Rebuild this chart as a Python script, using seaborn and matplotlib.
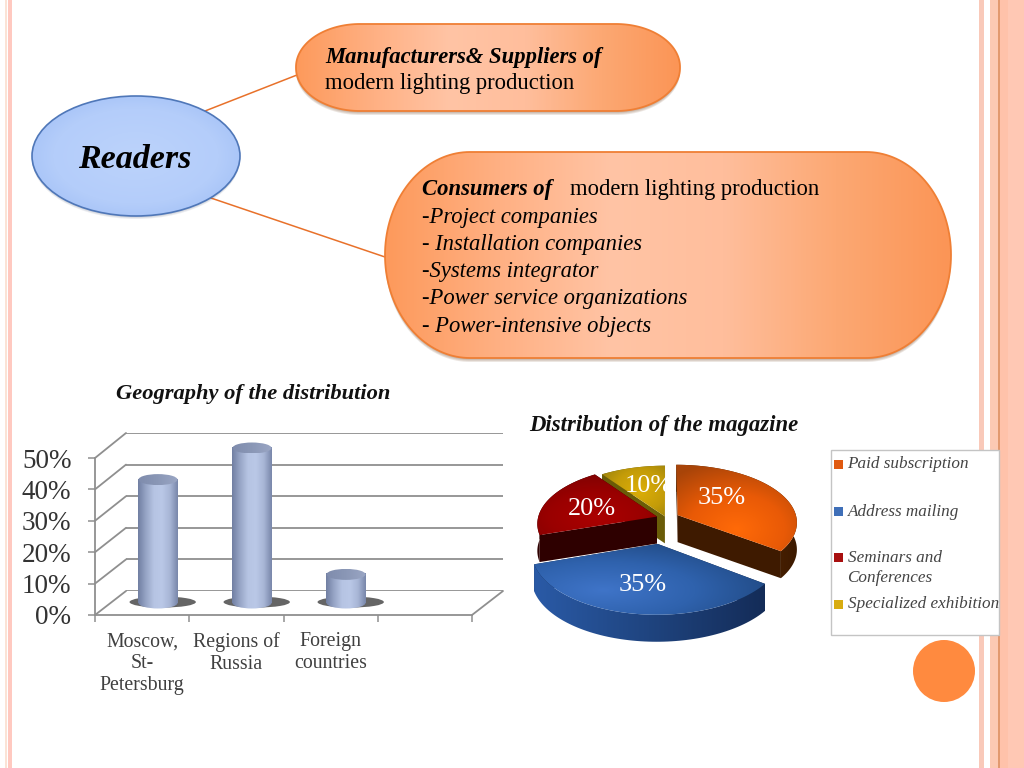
# Slide with reader groups, a fake 3D bar chart and an exploded 3D pie

import numpy as np
import matplotlib
matplotlib.use('Agg')
import matplotlib.pyplot as plt
import seaborn as sns
from matplotlib.colors import LinearSegmentedColormap
from matplotlib.patches import Ellipse, Polygon, Rectangle

# Bar chart data
GEO_CATEGORIES = ['Moscow,\nSt-\nPetersburg', 'Regions of\nRussia', 'Foreign\ncountries']
GEO_VALUES = [40, 50, 10]
GEO_TICKS = [0, 10, 20, 30, 40, 50]
GEO_TITLE = 'Geography of the distribution'

# Pie chart data
PIE_LABELS = ['Paid subscription', 'Address mailing', 'Seminars and\nConferences',
              'Specialized exhibition']
PIE_VALUES = [35, 35, 20, 10]
PIE_EXPLODE = [0.11, 0.43, 0.08, 0.03]
PIE_TITLE = 'Distribution of the magazine'

# Text of the top diagram
CONSUMER_LINES = ['-Project companies', '- Installation companies', '-Systems integrator',
                  '-Power service organizations', '- Power-intensive objects']

W, H = 1024, 768
SERIF = 'Liberation Serif'

sns.set_theme(style='white')
plt.rcParams['font.family'] = [SERIF, 'DejaVu Sans']


def px_axes(fig, left, top, right, bottom, zorder):
    """Axes placed by pixel box (y counted from the top of the picture)."""
    ax = fig.add_axes([left / W, 1 - bottom / H, (right - left) / W, (bottom - top) / H])
    ax.set_zorder(zorder)
    ax.patch.set_alpha(0)
    return ax


def grad_fill(ax, patch, colors, mode='h', focus=(0.5, 0.5)):
    """Fill a patch with a gradient image clipped to it."""
    ax.add_patch(patch)
    x0, y0, x1, y1 = patch.get_window_extent().extents
    inv = ax.transData.inverted()
    (ax0, ay0), (ax1, ay1) = inv.transform([(x0, y0), (x1, y1)])
    xx, yy = np.meshgrid(np.linspace(0, 1, 200), np.linspace(0, 1, 200))
    if mode == 'h':
        g = xx
    else:
        g = np.clip(np.hypot(xx - focus[0], yy - focus[1]) / 0.8, 0, 1)
    cmap = LinearSegmentedColormap.from_list('g', colors)
    xlim, ylim = ax.get_xlim(), ax.get_ylim()
    im = ax.imshow(g, cmap=cmap, extent=(ax0, ax1, ay0, ay1), origin='lower', aspect='auto',
                   vmin=0, vmax=1, zorder=patch.get_zorder(), interpolation='bilinear')
    im.set_clip_path(patch)
    ax.set_xlim(xlim)
    ax.set_ylim(ylim)


fig = plt.figure(figsize=(W / 100, H / 100), dpi=100, facecolor='white')
bg = px_axes(fig, 0, 0, W, H, 0)
bg.set_xlim(0, W)
bg.set_ylim(H, 0)
bg.axis('off')

# Slide stripes
for x0, x1, col in [(5, 7, '#fbe3d6'), (8, 12, '#ffc9c0'), (979, 983.5, '#f9c9b9'),
                    (990, 998, '#fcc9b3'), (998, 999.5, '#e2996f'), (999.5, 1008, '#ffc2aa'),
                    (1008, 1024, '#ffc8b4')]:
    bg.add_patch(Rectangle((x0, 0), x1 - x0, H, color=col, lw=0, zorder=0))

# Connector lines
bg.plot([205, 297], [111, 75], color='#e8712a', lw=1.1, zorder=1)
bg.plot([205, 385], [196, 257], color='#e8712a', lw=1.1, zorder=1)


def rounded(x0, y0, x1, y1, rx, ry, **kw):
    """Box with elliptical corners."""
    t = np.linspace(0, np.pi / 2, 40)
    pts = []
    pts += list(zip(x1 - rx + rx * np.sin(t), y0 + ry - ry * np.cos(t)))
    pts += list(zip(x1 - rx + rx * np.cos(t), y1 - ry + ry * np.sin(t)))
    pts += list(zip(x0 + rx - rx * np.sin(t), y1 - ry + ry * np.cos(t)))
    pts += list(zip(x0 + rx - rx * np.cos(t), y0 + ry - ry * np.sin(t)))
    return Polygon(pts, closed=True, **kw)


ORANGE_STOPS = ['#fd9a5c', '#ffb083', '#ffc4a5', '#ffbe9c', '#fca873', '#fb9556']
for box, rx, ry in [((296, 24, 680, 111), 64, 43), ((385, 152, 951, 358), 85, 103)]:
    for k in range(1, 5):
        bg.add_patch(rounded(box[0], box[1] + k, box[2], box[3] + k, rx, ry, fc='#7a5030',
                             ec='none', alpha=0.14, zorder=2))
    grad_fill(bg, rounded(*box, rx, ry, fc='none', ec='none', zorder=3), ORANGE_STOPS)
    bg.add_patch(rounded(*box, rx, ry, fc='none', ec='#ef7f35', lw=1.3, zorder=4))

# Readers ellipse
for k in range(1, 4):
    bg.add_patch(Ellipse((136, 156 + k), 208, 120, fc='#405070', ec='none', alpha=0.1, zorder=2))
grad_fill(bg, Ellipse((136, 156), 208, 120, fc='none', ec='none', zorder=3),
          ['#bcd3fb', '#b4cdfa', '#8fb2f2'], mode='r')
bg.add_patch(Ellipse((136, 156), 208, 120, fc='none', ec='#4f77b8', lw=1.2, zorder=4))
bg.text(135, 159, 'Readers', fontsize=24.5, fontweight='bold', style='italic', color='black',
        ha='center', va='center', zorder=5)

# Diagram texts
TXT = 16.3
bg.text(325, 57, 'Manufacturers& Suppliers of', fontsize=TXT, fontweight='bold', style='italic',
        va='center', color='black', zorder=5)
bg.text(325, 84, 'modern lighting production', fontsize=TXT, va='center', color='black', zorder=5)
bg.text(422, 189, 'Consumers of', fontsize=TXT, fontweight='bold', style='italic', va='center',
        color='black', zorder=5)
bg.text(570, 189, 'modern lighting production', fontsize=TXT, va='center', color='black', zorder=5)
for i, line in enumerate(CONSUMER_LINES):
    bg.text(422, 217 + i * 27.3, line, fontsize=TXT, style='italic', va='center', color='black',
            zorder=5)

bg.add_patch(Ellipse((944, 671), 62, 62, fc='#ff8a3f', ec='none', zorder=1))

# Bar chart: back wall, front frame and the bars sit on three planes
n_slots = 4
ymax = GEO_TICKS[-1]
GRID = '#8f8f8f'

back = px_axes(fig, 126, 433, 503, 591, 1)
back.set_xlim(-0.5, n_slots - 0.5)
back.set_ylim(0, ymax)
back.set_yticks(GEO_TICKS)
back.set_xticks([])
back.tick_params(left=False, labelleft=False)
back.grid(True, axis='y', color=GRID, lw=1.3)
sns.despine(ax=back, left=True, bottom=True)

front = px_axes(fig, 95, 458, 472, 615, 2)
front.set_xlim(-0.5, n_slots - 0.5)
front.set_ylim(0, ymax)
front.set_yticks(GEO_TICKS)
front.set_yticklabels(['%d%%' % t for t in GEO_TICKS], fontsize=19.5, color='#333333')
front.set_xticks(range(len(GEO_CATEGORIES)))
front.set_xticklabels(GEO_CATEGORIES, fontsize=14.3, color='#404040', linespacing=1.2)
front.set_xticks(np.arange(n_slots + 1) - 0.5, minor=True)
front.tick_params(axis='x', which='major', length=0, pad=12.5)
front.tick_params(axis='x', which='minor', length=5, width=1.1, color=GRID, bottom=True)
front.tick_params(axis='y', length=5, width=1.1, color=GRID, left=True, pad=12)
sns.despine(ax=front)
for s in ('left', 'bottom'):
    front.spines[s].set_color(GRID)
    front.spines[s].set_linewidth(1.3)

# Depth lines joining front frame and back wall
for t in GEO_TICKS:
    y0 = 615 - (615 - 458) * t / ymax
    y1 = 591 - (591 - 433) * t / ymax
    bg.plot([95, 126], [y0, y1], color=GRID, lw=1.3, zorder=1)
bg.plot([472, 503], [615, 591], color=GRID, lw=1.3, zorder=1)

# Bar plane has spare room above and below for the cylinder caps
px_y = ymax / 158.0   # data units per pixel
bars = px_axes(fig, 111, 429, 487, 619, 3)
sns.barplot(x=GEO_CATEGORIES, y=GEO_VALUES, color='#a9b7d6', width=0.415, ax=bars)
bars.set_xlim(-0.5, n_slots - 0.5)
bars.set_ylim(-16 * px_y, ymax + 16 * px_y)
bars.axis('off')
BAR_STOPS = ['#717fa2', '#97a5c6', '#b6c4e3', '#bac8e7', '#a8b6d6', '#7987aa']
fig.canvas.draw()
for patch in list(bars.patches):
    x0, w, h = patch.get_x(), patch.get_width(), patch.get_height()
    cx = x0 + w / 2
    bars.add_patch(Ellipse((cx + 0.05, 0.3), w * 1.7, 11 * px_y, fc='#4a4a4a', ec='none',
                           alpha=0.85, zorder=1))
    grad_fill(bars, Ellipse((cx, 0), w, 11 * px_y, fc='none', ec='none', zorder=2), BAR_STOPS)
    patch.set_facecolor('none')
    patch.set_edgecolor('none')
    grad_fill(bars, Rectangle((x0, 0), w, h - 2 * px_y, fc='none', ec='none', zorder=2.5), BAR_STOPS)
    grad_fill(bars, Ellipse((cx, h - 3 * px_y), w, 11 * px_y, fc='none', ec='none', zorder=3),
              ['#7f8cad', '#8a97b6', '#9aa6c4'])

bg.text(253.5, 394, GEO_TITLE, fontsize=16.2, fontweight='bold', style='italic', ha='center',
        va='center', color='#111111', zorder=5)

# Pie chart: angles come from ax.pie, top and sides are then drawn in perspective
pie = px_axes(fig, 520, 440, 820, 660, 4)
wedges, _ = pie.pie(PIE_VALUES, explode=PIE_EXPLODE, startangle=90, counterclock=False)
geom = [(w.theta1, w.theta2, w.center, w.r) for w in wedges]
for w in wedges:
    w.remove()
pie.set_aspect('auto')
pie.set_xlim(520, 820)
pie.set_ylim(660, 440)
pie.axis('off')

CX, CY, RX, RY, DEPTH = 666, 518, 119, 58, 27


def project(x, y, z=0.0):
    s = 1 - 0.12 * y
    return CX + RX * x * s, CY - RY * y * s + z


PIE_TOP = [(['#ff6a08', '#e95a06', '#a84409'], (0.5, 0.25)),
           (['#3f74c8', '#2f62ad', '#1f477f'], (0.3, 0.35)),
           (['#ab0000', '#9a0000', '#7a0404'], (0.5, 0.3)),
           (['#dcae08', '#c49c08', '#8f7a10'], (0.6, 0.5))]
PIE_RIM = [['#4a2000', '#5a2800', '#3d1a00'], ['#2a5aa6', '#1f447f', '#142c58'],
           ['#2e0000', '#2e0000', '#2e0000'], ['#6a5c08', '#6a5c08', '#6a5c08']]
PIE_CUT = ['#3e1a00', '#102648', '#2e0000', '#6a5c08']

fig.canvas.draw()
for idx in [3, 2, 0, 1]:
    t1, t2, c, r = geom[idx]
    ang = np.radians(np.linspace(t1, t2, 80))
    xs = c[0] + r * np.cos(ang)
    ys = c[1] + r * np.sin(ang)
    top = [project(a, b) for a, b in zip(xs, ys)]
    low = [project(a, b, DEPTH) for a, b in zip(xs, ys)]
    apex = project(c[0], c[1])
    apex_low = project(c[0], c[1], DEPTH)
    # cut faces, then outer rim, then the top
    base = {3: 2, 2: 3, 0: 4, 1: 5}[idx]
    for end, end_low in [(top[0], low[0]), (top[-1], low[-1])]:
        pie.add_patch(Polygon([apex, end, end_low, apex_low], fc=PIE_CUT[idx], ec='none', zorder=base))
    grad_fill(pie, Polygon(top + low[::-1], fc='none', ec='none', zorder=base + 0.1), PIE_RIM[idx])
    cols, focus = PIE_TOP[idx]
    grad_fill(pie, Polygon([apex] + top, fc='none', ec='none', zorder=base + 0.2), cols,
              mode='r', focus=focus)

PIE_TEXT_POS = [(722, 498), (642.5, 585), (592, 509), (649, 486)]
for v, (tx, ty) in zip(PIE_VALUES, PIE_TEXT_POS):
    pie.text(tx, ty, '%d%%' % v, fontsize=18.9, color='white', ha='center', va='center', zorder=9)

bg.text(663.5, 426, PIE_TITLE, fontsize=16.4, fontweight='bold', style='italic', ha='center',
        va='center', color='#111111', zorder=5)

# Legend box, built by hand because the rows are unevenly spaced
bg.add_patch(Rectangle((830.5, 450), 168, 185, fc='white', ec='#c4c4c4', lw=1, zorder=3))
LEG_COLORS = ['#e0590f', '#3f6fb8', '#a80f0f', '#d8ac10']
LEG_Y = [464, 511, 557, 604]
for lab, col, y in zip(PIE_LABELS, LEG_COLORS, LEG_Y):
    bg.add_patch(Rectangle((834, y - 4.5), 9, 9, fc=col, ec='none', zorder=4))
    bg.text(847.5, y - 7.5, lab, fontsize=12.3, style='italic', color='#444444', va='top',
            linespacing=1.35, zorder=5)

fig.savefig('out.png', dpi=100)
